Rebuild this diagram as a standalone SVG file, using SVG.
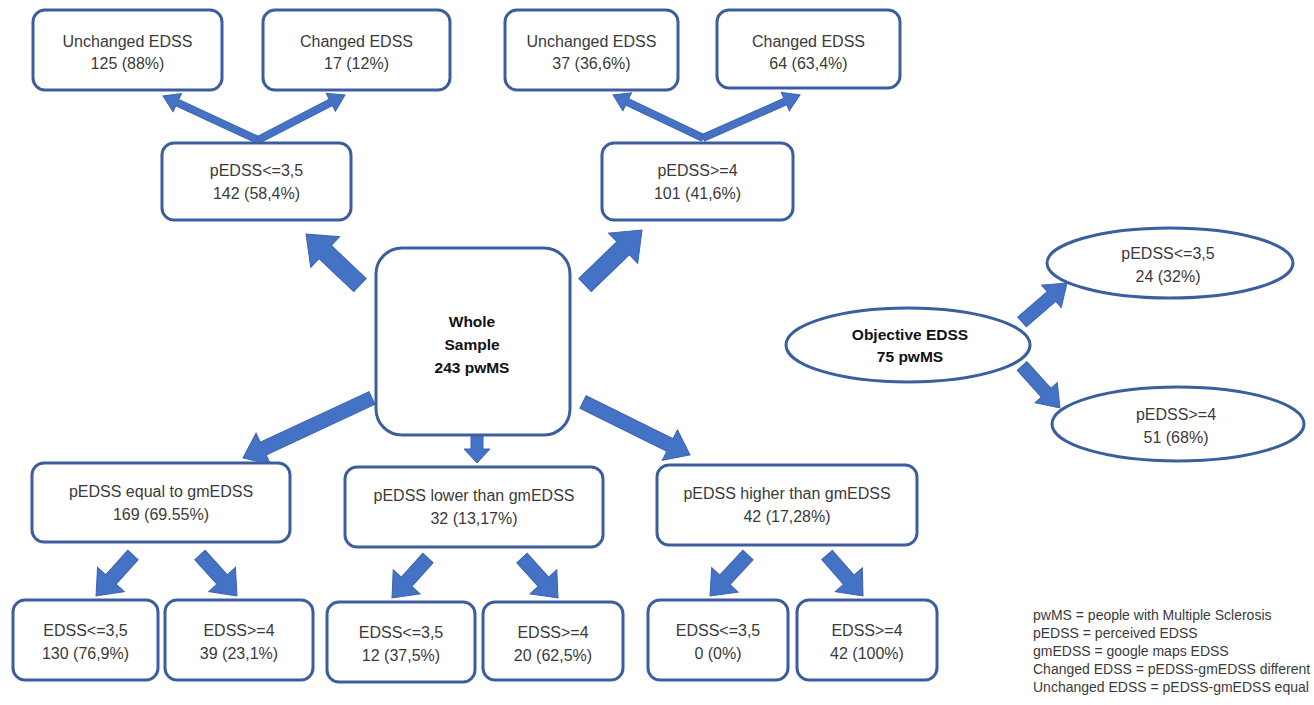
<svg xmlns="http://www.w3.org/2000/svg" width="1314" height="705" viewBox="0 0 1314 705">
<style>
.box{fill:#fff;stroke:#3d5e9e;stroke-width:3}
.t{font-family:"Liberation Sans",Arial,sans-serif;font-size:16px;fill:#3a3a3a;text-anchor:middle}
.b{font-family:"Liberation Sans",Arial,sans-serif;font-size:15.5px;font-weight:bold;fill:#111;text-anchor:middle}
.lg{font-family:"Liberation Sans",Arial,sans-serif;font-size:14px;fill:#3a3a3a}
.arr{fill:#4472c4;stroke:#3d64b0;stroke-width:1}
</style>
<rect width="1314" height="705" fill="#fff"/>
<g id="connectors">
<path class="arr" d="M0,-9 H48 V-21 L74.3,0 L48,21 V9 H0 Z" transform="translate(360,285) rotate(-136.6)"/>
<path class="arr" d="M0,-9 H53 V-21 L79.2,0 L53,21 V9 H0 Z" transform="translate(585,285) rotate(-43.98)"/>
<path class="arr" d="M0,-7 H120 V-17 L142.3,0 L120,17 V7 H0 Z" transform="translate(372,398) rotate(155.06)"/>
<path class="arr" d="M0,-6 H13 V-13 L27,0 L13,13 V6 H0 Z" transform="translate(477,436) rotate(90)"/>
<path class="arr" d="M0,-7 H97 V-17 L119.4,0 L97,17 V7 H0 Z" transform="translate(583,402) rotate(26.35)"/>
<path class="arr" d="M0,-3.5 H89 V-10 L104.7,0 L89,10 V3.5 H0 Z" transform="translate(258,140) rotate(-155.15)"/>
<path class="arr" d="M0,-3.5 H82 V-10 L97.9,0 L82,10 V3.5 H0 Z" transform="translate(258,140) rotate(-27.35)"/>
<path class="arr" d="M0,-3.5 H84 V-10 L99.7,0 L84,10 V3.5 H0 Z" transform="translate(703,138) rotate(-154.46)"/>
<path class="arr" d="M0,-3.5 H90 V-10 L106.1,0 L90,10 V3.5 H0 Z" transform="translate(703,138) rotate(-23.91)"/>
<path class="arr" d="M0,-6.5 H39 V-15 L59.5,0 L39,15 V6.5 H0 Z" transform="translate(1022,322) rotate(-40.91)"/>
<path class="arr" d="M0,-6.5 H36 V-15 L56.6,0 L36,15 V6.5 H0 Z" transform="translate(1022,366) rotate(47.86)"/>
<path class="arr" d="M0,-7 H33 V-18 L55.2,0 L33,18 V7 H0 Z" transform="translate(133,555) rotate(132.06)"/>
<path class="arr" d="M0,-7 H33 V-18 L55.2,0 L33,18 V7 H0 Z" transform="translate(200,555) rotate(47.94)"/>
<path class="arr" d="M0,-7 H32 V-18 L53.8,0 L32,18 V7 H0 Z" transform="translate(428,558) rotate(131.99)"/>
<path class="arr" d="M0,-7 H32 V-18 L53.8,0 L32,18 V7 H0 Z" transform="translate(522,558) rotate(48.01)"/>
<path class="arr" d="M0,-7 H34 V-18 L55.9,0 L34,18 V7 H0 Z" transform="translate(748,555) rotate(132.83)"/>
<path class="arr" d="M0,-7 H33 V-18 L54.6,0 L33,18 V7 H0 Z" transform="translate(827,555) rotate(48.72)"/>
</g>
<g id="n-unch1"><rect class="box" x="33" y="10" width="189" height="80" rx="12"/><text class="t" x="127.5" y="47">Unchanged EDSS</text><text class="t" x="127.5" y="69">125 (88%)</text></g>
<g id="n-ch1"><rect class="box" x="263" y="10" width="187" height="80" rx="12"/><text class="t" x="356.5" y="47">Changed EDSS</text><text class="t" x="356.5" y="69">17 (12%)</text></g>
<g id="n-unch2"><rect class="box" x="505" y="10" width="173" height="80" rx="12"/><text class="t" x="591.5" y="47">Unchanged EDSS</text><text class="t" x="591.5" y="69">37 (36,6%)</text></g>
<g id="n-ch2"><rect class="box" x="717" y="10" width="183" height="78" rx="12"/><text class="t" x="808.5" y="47">Changed EDSS</text><text class="t" x="808.5" y="69">64 (63,4%)</text></g>
<g id="n-low"><rect class="box" x="162" y="143" width="189" height="77" rx="12"/><text class="t" x="256.5" y="176">pEDSS&lt;=3,5</text><text class="t" x="256.5" y="199">142 (58,4%)</text></g>
<g id="n-high"><rect class="box" x="602" y="143" width="191" height="77" rx="12"/><text class="t" x="697.5" y="176">pEDSS&gt;=4</text><text class="t" x="697.5" y="199">101 (41,6%)</text></g>
<g id="n-whole"><rect class="box" x="376" y="248" width="194" height="187" rx="26"/><text class="b" x="472" y="327">Whole</text><text class="b" x="472" y="350">Sample</text><text class="b" x="472" y="373">243 pwMS</text></g>
<g id="n-obj"><ellipse class="box" cx="908" cy="345" rx="122" ry="37"/><text class="b" x="910" y="340">Objective EDSS</text><text class="b" x="910" y="362">75 pwMS</text></g>
<g id="n-obj-low"><ellipse class="box" cx="1170" cy="263" rx="123" ry="35"/><text class="t" x="1168" y="259">pEDSS&lt;=3,5</text><text class="t" x="1168" y="282">24 (32%)</text></g>
<g id="n-obj-high"><ellipse class="box" cx="1178" cy="424" rx="126" ry="37"/><text class="t" x="1176" y="420">pEDSS&gt;=4</text><text class="t" x="1176" y="443">51 (68%)</text></g>
<g id="n-equal"><rect class="box" x="32" y="463" width="258" height="79" rx="12"/><text class="t" x="161" y="497">pEDSS equal to gmEDSS</text><text class="t" x="161" y="520">169 (69.55%)</text></g>
<g id="n-lower"><rect class="box" x="345" y="467" width="258" height="80" rx="12"/><text class="t" x="474" y="501">pEDSS lower than gmEDSS</text><text class="t" x="474" y="524">32 (13,17%)</text></g>
<g id="n-higher"><rect class="box" x="657" y="465" width="260" height="80" rx="12"/><text class="t" x="787" y="499">pEDSS higher than gmEDSS</text><text class="t" x="787" y="522">42 (17,28%)</text></g>
<g id="n-e1"><rect class="box" x="13" y="600" width="145" height="80" rx="12"/><text class="t" x="85.5" y="636">EDSS&lt;=3,5</text><text class="t" x="85.5" y="659">130 (76,9%)</text></g>
<g id="n-e2"><rect class="box" x="165" y="600" width="148" height="80" rx="12"/><text class="t" x="239" y="636">EDSS&gt;=4</text><text class="t" x="239" y="659">39 (23,1%)</text></g>
<g id="n-l1"><rect class="box" x="327" y="602" width="148" height="80" rx="12"/><text class="t" x="401" y="638">EDSS&lt;=3,5</text><text class="t" x="401" y="661">12 (37,5%)</text></g>
<g id="n-l2"><rect class="box" x="483" y="602" width="140" height="78" rx="12"/><text class="t" x="553" y="638">EDSS&gt;=4</text><text class="t" x="553" y="661">20 (62,5%)</text></g>
<g id="n-h1"><rect class="box" x="648" y="600" width="140" height="80" rx="12"/><text class="t" x="718" y="636">EDSS&lt;=3,5</text><text class="t" x="718" y="659">0 (0%)</text></g>
<g id="n-h2"><rect class="box" x="797" y="600" width="140" height="80" rx="12"/><text class="t" x="867" y="636">EDSS&gt;=4</text><text class="t" x="867" y="659">42 (100%)</text></g>
<g id="legend">
<text class="lg" x="1033" y="620">pwMS = people with Multiple Sclerosis</text>
<text class="lg" x="1033" y="638">pEDSS = perceived EDSS</text>
<text class="lg" x="1033" y="656">gmEDSS = google maps EDSS</text>
<text class="lg" x="1033" y="674">Changed EDSS = pEDSS-gmEDSS different</text>
<text class="lg" x="1033" y="692">Unchanged EDSS = pEDSS-gmEDSS equal</text>
</g>
</svg>
